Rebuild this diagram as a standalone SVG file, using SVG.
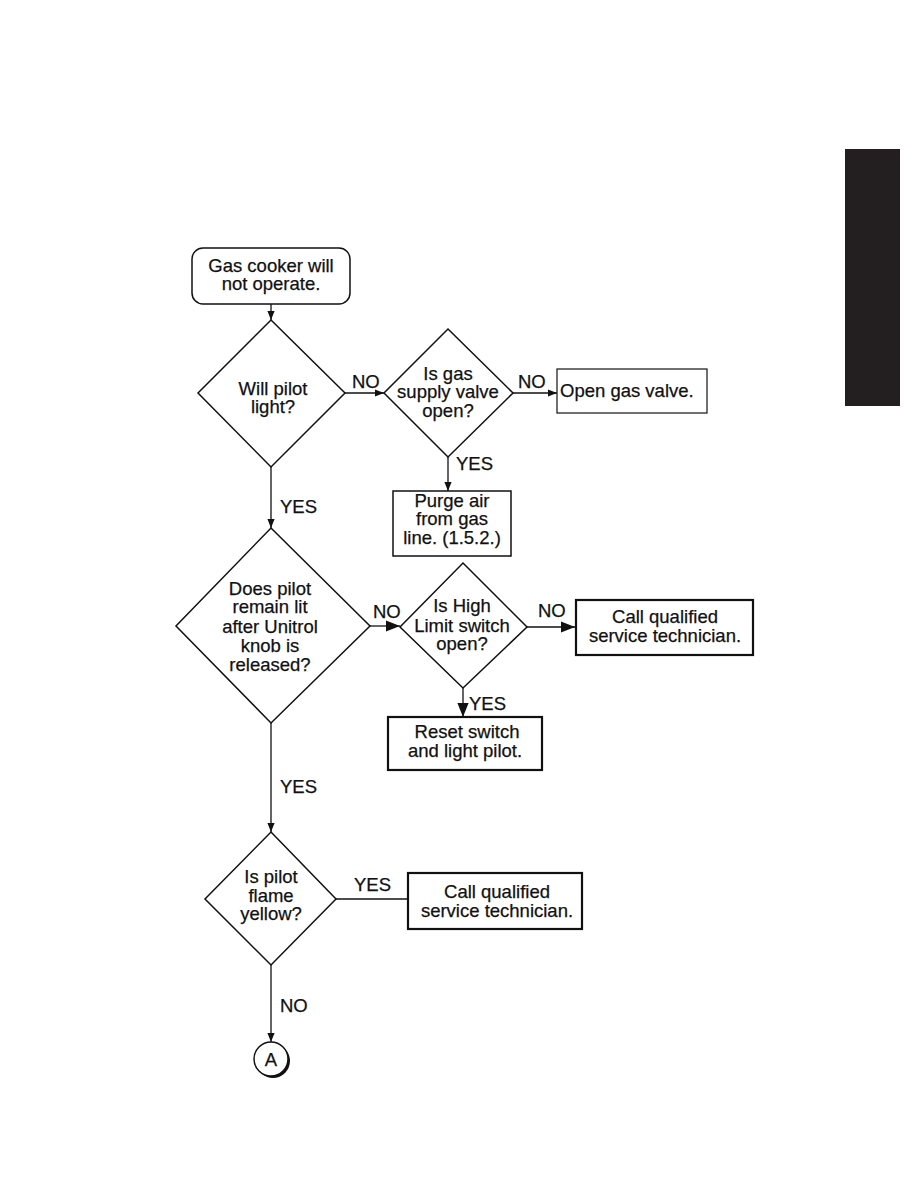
<svg xmlns="http://www.w3.org/2000/svg" width="918" height="1188" viewBox="0 0 918 1188">
<defs>
<style>
text{font-family:"Liberation Sans",Arial,sans-serif;font-size:18.5px;fill:#111;stroke:#111;stroke-width:0.25;text-anchor:middle}
.l{text-anchor:start}
.s{fill:#fff;stroke:#111;stroke-width:1.5}
.t{fill:#fff;stroke:#111;stroke-width:2.2}
.c{fill:none;stroke:#111;stroke-width:1.3}
</style>
<marker id="ah" viewBox="0 0 10 10" refX="10" refY="5" markerWidth="9" markerHeight="9" markerUnits="userSpaceOnUse" orient="auto"><path d="M0,1 L10,5 L0,9 Z" fill="#111"/></marker>
<marker id="ahb" viewBox="0 0 10 10" refX="10" refY="5" markerWidth="14" markerHeight="14" markerUnits="userSpaceOnUse" orient="auto"><path d="M0,1 L10,5 L0,9 Z" fill="#111"/></marker>
</defs>
<rect x="0" y="0" width="918" height="1188" fill="#fff"/>
<rect x="845" y="149" width="55" height="257" fill="#231f20"/>
<g id="connectors">
<line class="c" x1="271" y1="304" x2="271" y2="320" marker-end="url(#ah)"/>
<line class="c" x1="345" y1="393" x2="384" y2="393" marker-end="url(#ah)"/>
<line class="c" x1="513" y1="393" x2="557" y2="393" marker-end="url(#ah)"/>
<line class="c" x1="448" y1="457" x2="448" y2="491" marker-end="url(#ah)"/>
<line class="c" x1="271" y1="467" x2="271" y2="528" marker-end="url(#ah)"/>
<line class="c" x1="370" y1="626" x2="400" y2="626" marker-end="url(#ahb)"/>
<line class="c" x1="527" y1="627" x2="575" y2="627" marker-end="url(#ahb)"/>
<line class="c" x1="463" y1="688" x2="463" y2="717" marker-end="url(#ahb)"/>
<line class="c" x1="271" y1="723" x2="271" y2="832" marker-end="url(#ah)"/>
<line class="c" x1="336" y1="899" x2="407" y2="899"/>
<line class="c" x1="271" y1="965" x2="271" y2="1042" marker-end="url(#ah)"/>
<text class="l" x="352" y="388">NO</text>
<text class="l" x="518" y="388">NO</text>
<text class="l" x="456" y="470">YES</text>
<text class="l" x="280" y="513">YES</text>
<text class="l" x="373" y="618">NO</text>
<text class="l" x="538" y="617">NO</text>
<text class="l" x="469" y="710">YES</text>
<text class="l" x="280" y="793">YES</text>
<text class="l" x="354" y="891">YES</text>
<text class="l" x="280" y="1012">NO</text>
</g>
<g id="start">
<rect class="s" x="192" y="248" width="158" height="56" rx="11"/>
<text x="271" y="272">Gas cooker will</text>
<text x="271" y="290">not operate.</text>
</g>
<g id="d1">
<polygon class="s" points="271,320 345,393 271,467 198,393"/>
<text x="273" y="395">Will pilot</text>
<text x="273" y="413">light?</text>
</g>
<g id="d2">
<polygon class="s" points="448,329 513,393 448,457 384,393"/>
<text x="448" y="380">Is gas</text>
<text x="448" y="398">supply valve</text>
<text x="448" y="417">open?</text>
</g>
<g id="open">
<rect x="557" y="369" width="150" height="44" fill="#fff" stroke="#111" stroke-width="1.2"/>
<text class="l" x="560" y="397">Open gas valve.</text>
</g>
<g id="purge">
<rect class="s" x="393" y="491" width="118" height="65"/>
<text x="452" y="507">Purge air</text>
<text x="452" y="525">from gas</text>
<text x="452" y="544">line. (1.5.2.)</text>
</g>
<g id="d3">
<polygon class="s" points="271,528 370,626 271,723 176,626"/>
<text x="270" y="595">Does pilot</text>
<text x="270" y="613">remain lit</text>
<text x="270" y="633">after Unitrol</text>
<text x="270" y="652">knob is</text>
<text x="270" y="671">released?</text>
</g>
<g id="d4">
<polygon class="s" points="463,563 527,627 463,688 400,627"/>
<text x="462" y="612">Is High</text>
<text x="462" y="632">Limit switch</text>
<text x="462" y="650">open?</text>
</g>
<g id="call1">
<rect class="t" x="576" y="600" width="177" height="55"/>
<text x="665" y="623">Call qualified</text>
<text x="665" y="642">service technician.</text>
</g>
<g id="reset">
<rect class="t" x="388" y="717" width="154" height="53"/>
<text x="467" y="738">Reset switch</text>
<text x="465" y="757">and light pilot.</text>
</g>
<g id="d5">
<polygon class="s" points="271,832 336,899 271,965 205,899"/>
<text x="271" y="883">Is pilot</text>
<text x="271" y="902">flame</text>
<text x="271" y="920">yellow?</text>
</g>
<g id="call2">
<rect class="t" x="408" y="873" width="174" height="56"/>
<text x="497" y="898">Call qualified</text>
<text x="497" y="917">service technician.</text>
</g>
<g id="connA">
<circle cx="273" cy="1061" r="17" fill="#111"/>
<circle cx="271" cy="1059" r="17" fill="#fff" stroke="#111" stroke-width="1.5"/>
<text x="271" y="1066">A</text>
</g>
</svg>
